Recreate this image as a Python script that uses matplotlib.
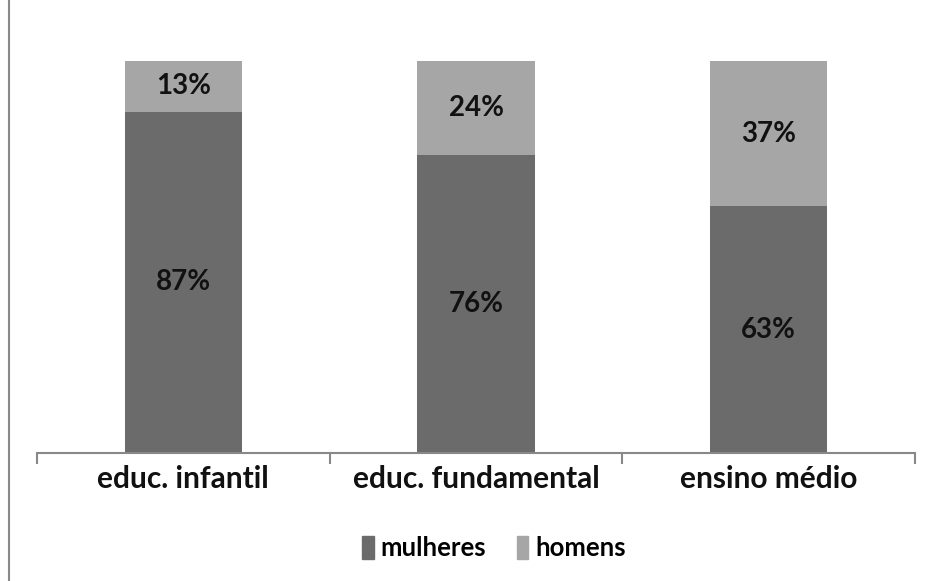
import matplotlib as mpl
import matplotlib.pyplot as plt
from matplotlib.lines import Line2D
from matplotlib.patches import Patch

# data
categorias = ['educ. infantil', 'educ. fundamental', 'ensino médio']
mulheres = [87, 76, 63]
homens = [13, 24, 37]

cor_mulheres = '#6b6b6b'
cor_homens = '#a6a6a6'

mpl.rcParams['font.family'] = ['Lato', 'DejaVu Sans']

fig = plt.figure(figsize=(9.3, 5.81), dpi=100)
ax = fig.add_axes([37 / 930, (581 - 453) / 581, (915 - 37) / 930, (453 - 61) / 581])

x = range(len(categorias))
ax.bar(x, mulheres, width=0.4, color=cor_mulheres)
ax.bar(x, homens, width=0.4, bottom=mulheres, color=cor_homens)

# labels inside bars
for i in x:
    ax.text(i, mulheres[i] / 2, f'{mulheres[i]}%', ha='center', va='center',
            fontsize=20, fontweight='bold', color='#111111')
    ax.text(i, mulheres[i] + homens[i] / 2, f'{homens[i]}%', ha='center', va='center',
            fontsize=20, fontweight='bold', color='#111111')

ax.set_xlim(-0.5, 2.5)
ax.set_ylim(0, 100)
for s in ['top', 'right', 'left']:
    ax.spines[s].set_visible(False)
ax.spines['bottom'].set_color('#888888')
ax.spines['bottom'].set_linewidth(1.5)
ax.set_yticks([])

# ticks between categories
ax.set_xticks([-0.5, 0.5, 1.5, 2.5])
ax.set_xticklabels([])
ax.tick_params(axis='x', length=8, width=1.5, color='#888888')
for i, c in enumerate(categorias):
    ax.text(i, -0.066, c, transform=ax.get_xaxis_transform(), ha='center', va='center',
            fontsize=21.5, fontweight='bold', color='#111111')

# legend
handles = [Patch(color=cor_mulheres, label='mulheres'), Patch(color=cor_homens, label='homens')]
fig.legend(handles=handles, loc='center', bbox_to_anchor=(494 / 930, 1 - 548 / 581), ncol=2,
           frameon=False, prop={'size': 18.5, 'weight': 'bold'}, handlelength=0.45, handleheight=1.0,
           handletextpad=0.25, columnspacing=1.2)

# left border of the chart area
fig.add_artist(Line2D([8.5 / 930, 8.5 / 930], [0, 1], transform=fig.transFigure, color='#888888', lw=1.5))

fig.savefig('out.png', dpi=100)
